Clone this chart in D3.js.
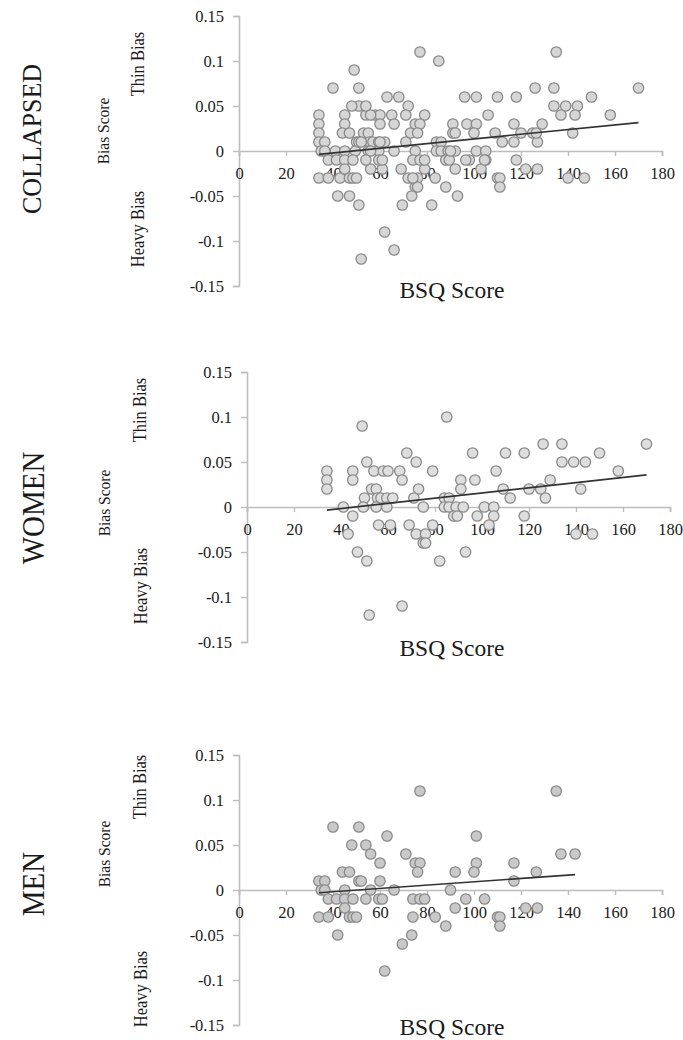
<!DOCTYPE html>
<html>
<head>
<meta charset="utf-8">
<script src="https://cdn.jsdelivr.net/npm/d3@7"></script>
<style>
  body { margin: 0; background: #fff; }
  text { font-family: "Liberation Serif", "Times New Roman", serif; fill: #1a1a1a; }
</style>
</head>
<body>
<div class="bias-chart"></div>
<script>
"use strict";

// women: BSQ score and bias score
var womenBSQ  = [85, 49, 126, 134, 170, 68, 96, 110, 118, 150, 51, 72, 134, 139, 144,
                 34, 45, 54, 58, 60, 65, 79, 106, 158, 34, 45, 66, 91, 97, 129,
                 34, 53, 55, 73, 91, 109, 120, 125, 142,
                 50, 55.5, 57, 59.5, 62, 71, 84, 86, 112, 127,
                 41, 49.5, 55, 59.5, 75, 84, 86, 89, 92, 101, 105,
                 45, 88, 89.5, 98, 105, 118, 56, 61, 69, 79, 103,
                 43, 72, 76, 140, 147, 75, 76, 47, 93, 51, 82, 66, 52];
var womenBias = [0.10, 0.09, 0.07, 0.07, 0.07, 0.06, 0.06, 0.06, 0.06, 0.06, 0.05, 0.05, 0.05, 0.05, 0.05,
                 0.04, 0.04, 0.04, 0.04, 0.04, 0.04, 0.04, 0.04, 0.04, 0.03, 0.03, 0.03, 0.03, 0.03, 0.03,
                 0.02, 0.02, 0.02, 0.02, 0.02, 0.02, 0.02, 0.02, 0.02,
                 0.01, 0.01, 0.01, 0.01, 0.01, 0.01, 0.01, 0.01, 0.01, 0.01,
                 0, 0, 0, 0, 0, 0, 0, 0, 0, 0, 0,
                 -0.01, -0.01, -0.01, -0.01, -0.01, -0.01, -0.02, -0.02, -0.02, -0.02, -0.02,
                 -0.03, -0.03, -0.03, -0.03, -0.03, -0.04, -0.04, -0.05, -0.05, -0.06, -0.06, -0.11, -0.12];

// men
var menBSQ  = [77, 135, 40, 51, 63, 101, 48, 54, 56, 71, 137, 143,
               60, 75, 77, 101, 117, 44, 47, 76, 92, 100, 126.5,
               34, 36.5, 51, 52, 60, 117, 35, 36.5, 45, 56, 66, 90,
               38, 41.5, 45, 48.5, 54, 59.5, 61, 74, 77, 79, 96.5, 104.5,
               45, 92, 122, 127, 34, 38, 47, 48.5, 50, 74, 83.5, 110, 111,
               88, 111, 42, 73.5, 69.5, 62];
var menBias = [0.11, 0.11, 0.07, 0.07, 0.06, 0.06, 0.05, 0.05, 0.04, 0.04, 0.04, 0.04,
               0.03, 0.03, 0.03, 0.03, 0.03, 0.02, 0.02, 0.02, 0.02, 0.02, 0.02,
               0.01, 0.01, 0.01, 0.01, 0.01, 0.01, 0, 0, 0, 0, 0, 0,
               -0.01, -0.01, -0.01, -0.01, -0.01, -0.01, -0.01, -0.01, -0.01, -0.01, -0.01, -0.01,
               -0.02, -0.02, -0.02, -0.02, -0.03, -0.03, -0.03, -0.03, -0.03, -0.03, -0.03, -0.03, -0.03,
               -0.04, -0.04, -0.05, -0.05, -0.06, -0.09];

var xTicks = [0, 20, 40, 60, 80, 100, 120, 140, 160, 180];
var yTicks = [-0.15, -0.1, -0.05, 0, 0.05, 0.1, 0.15];
var panelNames = ["COLLAPSED", "WOMEN", "MEN"];

function zip(xs, ys){
  return xs.map(function(x, i){ return {x: x, y: ys[i]}; });
}
var women = zip(womenBSQ, womenBias),
    men = zip(menBSQ, menBias),
    collapsed = women.concat(men);

// layout of each panel
var panels = [
  {name: panelNames[0], data: collapsed, fill: "#d6d6d6", x0: 239, x1: 662, top: 16, bottom: 286,
   title: [31, 139], tsize: 26, bias: [103, 131], thin: [138, 64], heavy: [138, 229], bsq: 298},
  {name: panelNames[1], data: women, fill: "#dedede", x0: 247, x1: 670, top: 372, bottom: 642,
   title: [33, 508], tsize: 29, bias: [104, 503], thin: [140, 410], heavy: [141, 586], bsq: 656},
  {name: panelNames[2], data: men, fill: "#c9c9c9", x0: 239, x1: 662, top: 755, bottom: 1025,
   title: [33, 884], tsize: 29, bias: [104, 854], thin: [140, 787], heavy: [141, 989], bsq: 1035}
];

var svg = d3.select(".bias-chart").append("svg")
    .attr("width", 683).attr("height", 1040);

function vText(g, pos, txt, size){
  g.append("text")
    .attr("transform", "translate(" + pos[0] + "," + pos[1] + ") rotate(-90) scale(1,1.08)")
    .attr("text-anchor", "middle")
    .attr("dy", "0.35em")
    .style("font-size", size + "px")
    .text(txt);
}

panels.forEach(function(p){
  var x = d3.scaleLinear().domain([0, 180]).range([p.x0, p.x1]);
  var y = d3.scaleLinear().domain([-0.15, 0.15]).range([p.bottom, p.top]);
  var g = svg.append("g").attr("class", "panel");

  //y axis
  var yAxis = g.append("g").attr("transform", "translate(" + p.x0 + ",0)")
    .call(d3.axisLeft(y).tickValues(yTicks).tickSize(6).tickPadding(10)
      .tickFormat(function(d){ return String(+d.toFixed(2)); }));
  //x axis on the zero line
  var xAxis = g.append("g").attr("transform", "translate(0," + y(0) + ")")
    .call(d3.axisBottom(x).tickValues(xTicks).tickSize(5).tickPadding(10)
      .tickFormat(function(d){ return String(d); }));

  [yAxis, xAxis].forEach(function(a){
    a.attr("font-family", "Liberation Serif").attr("font-size", 16);
    a.select(".domain").attr("stroke", "#bdbdbd").attr("stroke-width", 1.6);
    a.selectAll(".tick line").attr("stroke", "#bdbdbd").attr("stroke-width", 1.4);
    a.selectAll(".tick text").style("font-size", "16.5px")
      .style("font-family", "'Liberation Serif', serif").attr("fill", "#1a1a1a");
  });
  yAxis.selectAll(".tick text").attr("x", -15);
  xAxis.selectAll(".tick text").attr("dy", "0.71em").attr("y", 16);

  //points
  g.append("g").selectAll("circle")
    .data(p.data).enter().append("circle")
    .attr("cx", function(d){ return x(d.x); })
    .attr("cy", function(d){ return y(d.y); })
    .attr("r", 5.2)
    .attr("fill", p.fill)
    .attr("stroke", "#8a8a8a")
    .attr("stroke-width", 1.3);

  //linear trend line, least squares
  var mx = d3.mean(p.data, function(d){ return d.x; }),
      my = d3.mean(p.data, function(d){ return d.y; });
  var sxy = d3.sum(p.data, function(d){ return (d.x - mx) * (d.y - my); }),
      sxx = d3.sum(p.data, function(d){ return (d.x - mx) * (d.x - mx); });
  var slope = sxy / sxx, icpt = my - slope * mx;
  var ext = d3.extent(p.data, function(d){ return d.x; });
  g.append("line")
    .attr("x1", x(ext[0])).attr("y1", y(icpt + slope * ext[0]))
    .attr("x2", x(ext[1])).attr("y2", y(icpt + slope * ext[1]))
    .attr("stroke", "#333").attr("stroke-width", 1.6);

  //labels
  vText(g, p.title, p.name, p.tsize);
  vText(g, p.bias, "Bias Score", 15.5);
  vText(g, p.thin, "Thin Bias", 16.5);
  vText(g, p.heavy, "Heavy Bias", 16.5);
  g.append("text")
    .attr("x", 452).attr("y", p.bsq)
    .attr("text-anchor", "middle")
    .style("font-size", "23.5px")
    .text("BSQ Score");
});
</script>
</body>
</html>
